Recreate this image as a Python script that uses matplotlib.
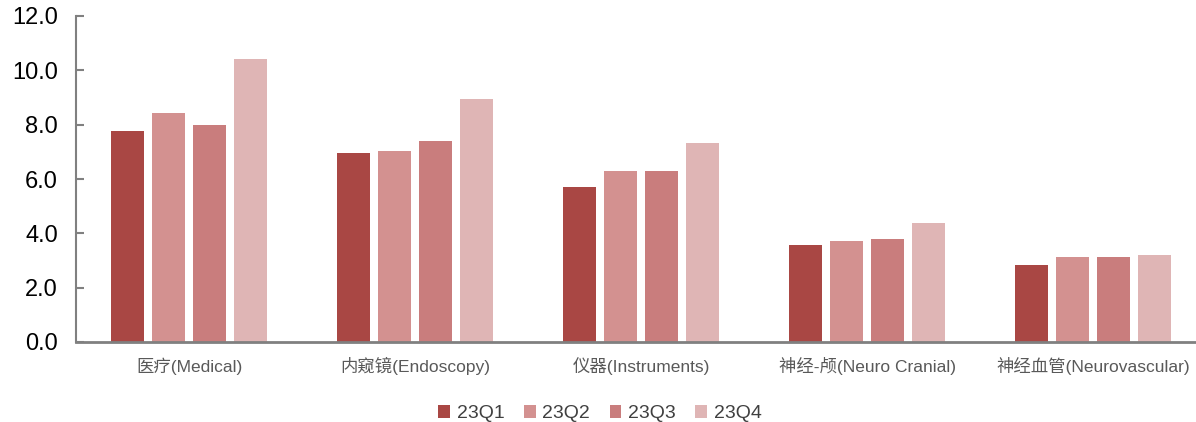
import matplotlib.pyplot as plt
import numpy as np

plt.rcParams['font.family'] = ['Liberation Sans', 'Noto Sans CJK SC', 'DejaVu Sans']

categories = ['医疗(Medical)', '内窥镜(Endoscopy)', '仪器(Instruments)',
              '神经-颅(Neuro Cranial)', '神经血管(Neurovascular)']
series = ['23Q1', '23Q2', '23Q3', '23Q4']
q1 = [7.75, 6.94, 5.69, 3.56, 2.82]
q2 = [8.42, 7.02, 6.28, 3.71, 3.12]
q3 = [7.98, 7.39, 6.28, 3.78, 3.12]
q4 = [10.41, 8.93, 7.31, 4.37, 3.19]
colors = ['#A94744', '#D39190', '#C97D7D', '#DFB5B5']

fig = plt.figure(figsize=(11.96, 4.22), dpi=100)
ax = fig.add_axes([76 / 1196, 80 / 422, 1130 / 1196, 326 / 422])

x = np.arange(len(categories))
step = 0.181
width = 0.146
for i, (vals, name) in enumerate(zip([q1, q2, q3, q4], series)):
    ax.bar(x + (i - 1.5) * step, vals, width, color=colors[i], label=name)

ax.set_xlim(-0.5, 4.5)
ax.set_ylim(0, 12)
ax.set_yticks(np.arange(0, 12.1, 2))
ax.set_yticklabels([f'{v:.1f}' for v in np.arange(0, 12.1, 2)], fontsize=17)
ax.set_xticks(x)
ax.set_xticklabels(categories, fontsize=12.5, color='#595959')
ax.tick_params(axis='x', length=0, pad=11)
ax.tick_params(axis='y', direction='in', length=6, width=1.5, color='#808080', pad=13)

for s in ['top', 'right']:
    ax.spines[s].set_visible(False)
ax.spines['left'].set_color('#808080')
ax.spines['left'].set_linewidth(1.5)
ax.spines['bottom'].set_color('#808080')
ax.spines['bottom'].set_linewidth(2)

leg = ax.legend(loc='lower center', bbox_to_anchor=(524 / 1130, -0.30), ncol=4,
                frameon=False, fontsize=14, handlelength=0.6, handleheight=0.6,
                handletextpad=0.35, columnspacing=1.0)
for t in leg.get_texts():
    t.set_color('#404040')

fig.savefig('out.png', dpi=100)
